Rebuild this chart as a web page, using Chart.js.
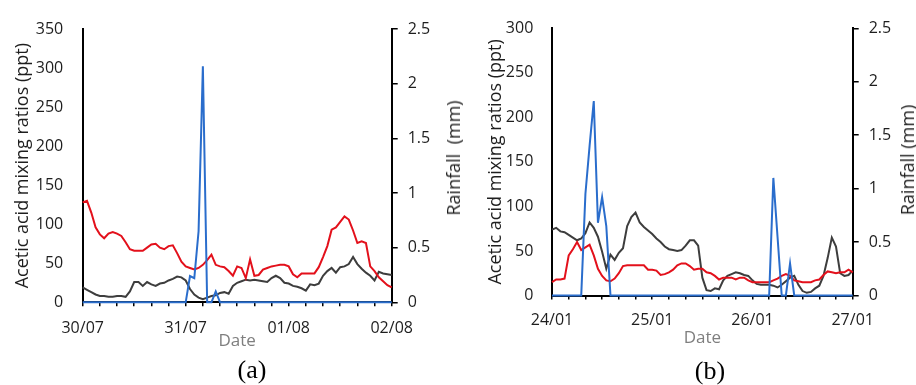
<!DOCTYPE html>
<html>
<head>
<meta charset="utf-8">
<title>Acetic acid and rainfall</title>
<script src="https://cdn.jsdelivr.net/npm/chart.js@4.4.0/dist/chart.umd.min.js"></script>
<style>
  body { margin: 0; background: #fff; }
  #wrap { position: relative; width: 916px; height: 385px; overflow: hidden; font-family: "Open Sans", sans-serif; }
  canvas { position: absolute; top: 0; }
  #chartA { left: 0; }
  #chartB { left: 466px; }
  .rtitle { position: absolute; font-size: 18px; color: #1e1e1e; white-space: pre; transform: translate(-50%, -50%) rotate(-90deg); }
  .caption { position: absolute; font-family: "Liberation Serif", serif; font-size: 26px; color: #000; transform: translate(-50%, -50%); }
</style>
</head>
<body>
<div id="wrap">
  <canvas id="chartA" width="466" height="385"></canvas>
  <canvas id="chartB" width="450" height="385"></canvas>
  <div class="rtitle" style="left:453px; top:158px;">Rainfall  (mm)</div>
  <div class="rtitle" style="left:907px; top:160px;">Rainfall (mm)</div>
  <div class="caption" style="left:252px; top:370px;">(a)</div>
  <div class="caption" style="left:710px; top:371px;">(b)</div>
</div>
<script>
// ===== DATA (hourly, 3 days) =====
const daysA = ["30/07", "31/07", "01/08", "02/08"];
const daysB = ["24/01", "25/01", "26/01", "27/01"];

// (a) acetic acid, ppt
const redA = [128,130,115,96,87,82,88,90,88,85,77,68,
  66,66,66,70,74,75,70,68,72,73,63,52,
  46,44,42,44,48,54,61,48,46,45,40,34,
  46,44,31,55,34,35,42,44,46,47,48,48,
  46,36,32,37,37,37,37,45,58,72,93,96,
  103,110,106,92,76,78,76,46,40,32,27,22,
  19];
const grayA = [19,16,13,10,8,8,7,7,8,8,7,14,
  26,26,21,26,23,21,24,25,28,30,33,32,
  28,17,10,6,4,6,8,9,12,13,11,21,
  25,27,29,28,29,28,27,26,31,34,31,25,
  24,21,20,18,15,23,22,24,34,40,44,38,
  45,46,49,58,49,43,38,34,28,39,37,36,
  35];
// (a) rainfall, mm
const blueA = [0,0,0,0,0,0,0,0,0,0,0,0,
  0,0,0,0,0,0,0,0,0,0,0,0,
  0,0.24,0.22,0.65,2.16,0,0,0.1,0,0,0,0,
  0,0,0,0,0,0,0,0,0,0,0,0,
  0,0,0,0,0,0,0,0,0,0,0,0,
  0,0,0,0,0,0,0,0,0,0,0,0,
  0];

// (b) acetic acid, ppt
const redB = [15,18,18,19,45,52,60,51,54,57,45,30,
  22,17,16,19,25,33,34,34,34,34,34,29,
  29,28,23,24,26,29,34,36,36,33,29,30,
  30,26,25,22,18,20,20,20,18,20,20,17,
  15,15,15,15,15,17,19,22,24,22,17,16,
  15,15,15,17,18,23,27,26,25,26,26,29,
  26];
const grayB = [74,76,72,71,68,65,62,64,70,82,76,66,
  49,30,46,40,48,53,78,88,93,82,77,73,
  69,64,60,55,52,51,50,51,56,62,62,56,
  20,6,5,8,7,17,22,24,26,25,23,22,
  17,13,12,12,12,11,9,12,16,20,22,12,
  5,3,4,8,11,22,42,65,55,25,22,23,
  28];
// (b) rainfall, mm
const blueB = [0,0,0,0,0,0,0,0,0.95,1.4,1.82,0.68,
  0.92,0.65,0,0,0,0,0,0,0,0,0,0,
  0,0,0,0,0,0,0,0,0,0,0,0,
  0,0,0,0,0,0,0,0,0,0,0,0,
  0,0,0,0,0,1.1,0.55,0,0,0.3,0,0,
  0,0,0,0,0,0,0,0,0,0,0,0,
  0];

// ===== STYLE =====
const RED = "#e3101b", GRAY = "#3d3d3d", BLUE = "#2a6dcc";
const TICK_COLOR = "#1e1e1e";
const tickFont = { family: "Open Sans", size: 16 };

function pts(arr) {
  return arr.map((v, i) => ({ x: i, y: v }));
}

function makeChart(id, cfg) {
  const ctx = document.getElementById(id).getContext("2d");
  return new Chart(ctx, {
    type: "line",
    data: {
      datasets: [
        { data: pts(cfg.gray), borderColor: GRAY, borderWidth: 2, yAxisID: "y", order: 3 },
        { data: pts(cfg.red), borderColor: RED, borderWidth: 2, yAxisID: "y", order: 2 },
        { data: pts(cfg.blue), borderColor: BLUE, borderWidth: 2, yAxisID: "y1", order: 1 }
      ]
    },
    options: {
      responsive: false,
      animation: false,
      layout: { padding: { top: cfg.top, left: 0, right: 0, bottom: 0 } },
      elements: { point: { radius: 0 }, line: { tension: 0 } },
      datasets: { line: { clip: false } },
      plugins: { legend: { display: false }, tooltip: { enabled: false } },
      scales: {
        x: {
          type: "linear", min: 0, max: 72,
          afterFit: s => { s.height = cfg.xH; },
          ticks: {
            stepSize: 4, autoSkip: false, maxRotation: 0, padding: cfg.xPad,
            color: TICK_COLOR, font: tickFont,
            callback: v => (v % 24 === 0 ? cfg.days[v / 24] : "")
          },
          grid: { drawOnChartArea: false, drawTicks: true, tickLength: 4, color: "#000", lineWidth: 1.5 },
          border: { display: true, color: "#000", width: 2 },
          title: {
            display: true, text: "Date", color: "#7f7f7f",
            font: { family: "Open Sans", size: 17 },
            padding: { top: 0, bottom: cfg.datePad }
          }
        },
        y: {
          position: "left", min: 0, max: cfg.yMax,
          afterFit: s => { s.width = cfg.leftW; },
          ticks: { stepSize: 50, padding: cfg.yPad, color: TICK_COLOR, font: tickFont },
          grid: { drawOnChartArea: false, drawTicks: false },
          border: { display: true, color: "#000", width: 2 },
          title: {
            display: true, text: "Acetic acid mixing ratios (ppt)", color: TICK_COLOR,
            font: { family: "Open Sans", size: 18 },
            padding: { top: cfg.titlePad, bottom: 0 }
          }
        },
        y1: {
          position: "right", min: 0, max: 2.5,
          afterFit: s => { s.width = cfg.rightW; },
          ticks: {
            stepSize: 0.5, padding: 10, color: TICK_COLOR, font: tickFont,
            callback: v => String(v)
          },
          grid: { drawOnChartArea: false, drawTicks: true, tickLength: 6, color: "#000", lineWidth: 1.5 },
          border: { display: true, color: "#000", width: 2 }
        }
      }
    }
  });
}

// ===== INIT =====
makeChart("chartA", {
  days: daysA, red: redA, gray: grayA, blue: blueA,
  yMax: 350, top: 19.5, xH: 82.7, leftW: 82.7, rightW: 74.3,
  xPad: 13, yPad: 19.5, titlePad: 12, datePad: 34
});
makeChart("chartB", {
  days: daysB, red: redB, gray: grayB, blue: blueB,
  yMax: 300, top: 25.5, xH: 89.5, leftW: 86, rightW: 63.3,
  xPad: 11, yPad: 18.7, titlePad: 19, datePad: 37
});
</script>
</body>
</html>
